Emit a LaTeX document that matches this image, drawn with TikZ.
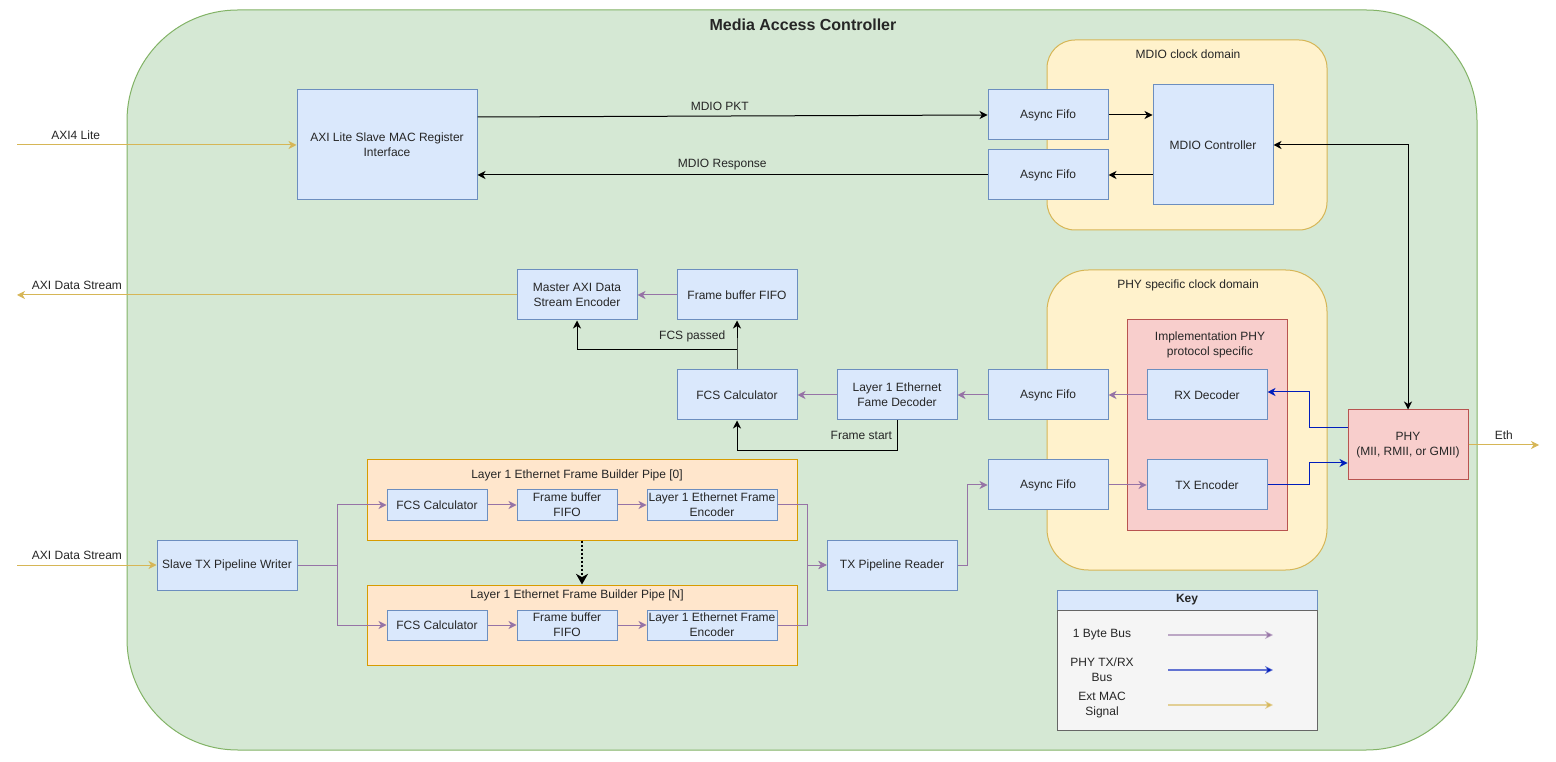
\documentclass[tikz,border=0pt]{standalone}
\usepackage{fontspec}
\setmainfont{Liberation Sans}
\usepackage{xcolor}
\usetikzlibrary{arrows.meta,positioning}

\definecolor{macfill}{HTML}{D5E8D4}
\definecolor{macline}{HTML}{82B366}
\definecolor{clkfill}{HTML}{FFF2CC}
\definecolor{clkline}{HTML}{D6B656}
\definecolor{blkfill}{HTML}{DAE8FC}
\definecolor{blkline}{HTML}{6C8EBF}
\definecolor{phyfill}{HTML}{F8CECC}
\definecolor{phyline}{HTML}{B85450}
\definecolor{pipefill}{HTML}{FFE6CC}
\definecolor{pipeline}{HTML}{D79B00}
\definecolor{keyfill}{HTML}{F5F5F5}
\definecolor{keyline}{HTML}{666666}
\definecolor{busline}{HTML}{9673A6}
\definecolor{phybusline}{HTML}{001DBC}
\definecolor{extline}{HTML}{D6B656}
\definecolor{txt}{HTML}{262626}

\newcommand{\px}{0.75pt}

\tikzset{
	every node/.style={text=txt, font=\fontsize{9pt}{11.25pt}\selectfont},
	title/.style={font=\bfseries\fontsize{12pt}{14pt}\selectfont},
	area/.style={line width=\px, inner sep=0pt},
	macarea/.style={area, draw=macline, fill=macfill, rounded corners=83pt},
	clkarea/.style={area, draw=clkline, fill=clkfill, minimum width=280*\px},
	phyarea/.style={area, draw=phyline, fill=phyfill},
	pipearea/.style={area, draw=pipeline, fill=pipefill, minimum width=430*\px, minimum height=80*\px},
	blk/.style={draw=blkline, fill=blkfill, line width=\px, align=center, inner sep=1pt, minimum width=120*\px, minimum height=50*\px},
	subblk/.style={blk, minimum width=100*\px, minimum height=30*\px},
	phyblk/.style={blk, draw=phyline, fill=phyfill, minimum height=70*\px},
	keyhead/.style={area, draw=blkline, fill=blkfill, minimum width=260*\px, minimum height=20*\px},
	keybody/.style={area, draw=keyline, fill=keyfill, minimum width=260*\px, minimum height=120*\px},
	wire/.style={line width=\px, ->},
	ctl/.style={wire, draw=black},
	bus/.style={wire, draw=busline},
	phybus/.style={wire, draw=phybusline},
	extsig/.style={wire, draw=extline},
	keywire/.style={line width=1.5pt, draw opacity=0.6},
	pipelink/.style={draw=black, line width=1.5pt, dash pattern=on 1.5pt off 1.5pt, -{Stealth[length=8pt,width=9pt,inset=2.5pt]}}
}

\begin{document}
\begin{tikzpicture}[x=\px, y=-\px, >={Stealth[length=6pt,width=6pt,inset=1.8pt]}]
	\useasboundingbox (0,0) rectangle (1556,762);

	\node[macarea, minimum width=1350*\px, minimum height=740*\px] (mac) at (802,380) {};
	\node[title] (mactitle) at (803,25) {Media Access Controller};

	\node[clkarea, minimum height=190*\px, rounded corners=21pt] (mdioclk) at (1187,135) {};
	\node (mdioclklbl) at (1188,54) {MDIO clock domain};
	\node[clkarea, minimum height=300*\px, rounded corners=31pt] (phyclk) at (1187,420) {};
	\node (phyclklbl) at (1188,285) {PHY specific clock domain};
	\node[phyarea, minimum width=160*\px, minimum height=210*\px] (impl) at (1207,425) {};
	\node[align=center] (impllbl) at (1210,345) {Implementation PHY\\protocol specific};

	\node[pipearea] (pipe0) at (582,500) {};
	\node (pipe0lbl) at (577,475) {Layer 1 Ethernet Frame Builder Pipe [0]};
	\node[pipearea] (pipeN) at (582,625) {};
	\node (pipeNlbl) at (577,595) {Layer 1 Ethernet Frame Builder Pipe [N]};

	\node[blk, minimum width=180*\px, minimum height=110*\px] (axilite) at (387,145) {AXI Lite Slave MAC Register\\Interface};
	\node[blk] (fifoa) at (1048,115) {Async Fifo};
	\node[blk] (fifob) at (1048,175) {Async Fifo};
	\node[blk, minimum height=120*\px] (mdioctl) at (1213,145) {MDIO Controller};

	\node[blk] (mstenc) at (577,295) {Master AXI Data\\Stream Encoder};
	\node[blk] (rxbuf) at (737,295) {Frame buffer FIFO};
	\node[blk] (rxfcs) at (737,395) {FCS Calculator};
	\node[blk] (l1dec) at (897,395) {Layer 1 Ethernet\\Fame Decoder};
	\node[blk] (fiforx) at (1048,395) {Async Fifo};
	\node[blk] (fifotx) at (1048,485) {Async Fifo};
	\node[blk] (rxdec) at (1207,395) {RX Decoder};
	\node[blk] (txenc) at (1207,485) {TX Encoder};
	\node[phyblk] (phy) at (1408,445) {PHY\\(MII, RMII, or GMII)};

	\node[blk, minimum width=140*\px] (txwr) at (227,565) {Slave TX Pipeline Writer};
	\node[blk, minimum width=130*\px] (txrd) at (892,565) {TX Pipeline Reader};
	\node[subblk] (fcs0) at (437,505) {FCS Calculator};
	\node[subblk] (buf0) at (567,505) {Frame buffer\\FIFO};
	\node[subblk, minimum width=130*\px] (enc0) at (712,505) {Layer 1 Ethernet Frame\\Encoder};
	\node[subblk] (fcsN) at (437,625) {FCS Calculator};
	\node[subblk] (bufN) at (567,625) {Frame buffer\\FIFO};
	\node[subblk, minimum width=130*\px] (encN) at (712,625) {Layer 1 Ethernet Frame\\Encoder};

	\node[keyhead] (keyhd) at (1187,600) {\textbf{Key}};
	\node[keybody] (keybd) at (1187,670) {};
	\node (k1) at (1102,635) {1 Byte Bus};
	\node[align=center] (k2) at (1102,670) {PHY TX/RX\\Bus};
	\node[align=center] (k3) at (1102,705) {Ext MAC\\Signal};

	\coordinate (axilin) at (17,145);
	\coordinate (axisout) at (17,295);
	\coordinate (axisin) at (17,565);
	\coordinate (ethout) at (1539,445);
	\coordinate (k1a) at (1168,635);
	\coordinate (k1b) at (1273,635);
	\coordinate (k2a) at (1168,670);
	\coordinate (k2b) at (1273,670);
	\coordinate (k3a) at (1168,705);
	\coordinate (k3b) at (1273,705);

	\draw[extsig] (axilin) -- (axilite.west) node[pos=0.21, above] {AXI4 Lite};
	\draw[ctl] ([yshift=21pt]axilite.east) -- (fifoa.west) node[pos=0.475, above] {MDIO PKT};
	\draw[ctl] (fifob.west) -- (fifob.west -| axilite.east) node[pos=0.52, above] {MDIO Response};
	\draw[ctl] (fifoa.east) -- (fifoa.east -| mdioctl.west);
	\draw[ctl] (mdioctl.west |- fifob.east) -- (fifob.east);
	\draw[ctl, <->] (mdioctl.east) -| (phy.north);

	\draw[bus] (rxdec.west) -- (fiforx.east);
	\draw[bus] (fifotx.east) -- (txenc.west);
	\draw[phybus] ([yshift=12.75pt]phy.west) -| ([xshift=31.5pt, yshift=2.25pt]rxdec.east) -- ([yshift=2.25pt]rxdec.east);
	\draw[phybus] (txenc.east) -- ++(42,0) |- ([yshift=-13.5pt]phy.west);
	\draw[extsig] (phy.east) -- (ethout) node[midway, above] {Eth};

	\draw[bus] (fiforx.west) -- (l1dec.east);
	\draw[bus] (l1dec.west) -- (rxfcs.east);
	\draw[bus] (rxbuf.west) -- (mstenc.east);
	\draw[extsig] (mstenc.west) -- (axisout) node[pos=0.88, above] {AXI Data Stream};
	\draw[ctl] (rxfcs.north) -- ++(0,-20) coordinate (fcsjn) -- (rxbuf.south);
	\draw[ctl] (fcsjn) -| (mstenc.south) node[pos=0.14, above=2pt] {FCS passed};
	\draw[ctl] (l1dec.south) -- ++(0,30) node[midway, left] {Frame start} -| (rxfcs.south);

	\draw[extsig] (axisin) -- (txwr.west) node[pos=0.43, above] {AXI Data Stream};
	\draw[bus] (txwr.east) -- ++(40,0) coordinate (wrjn) |- (fcs0.west);
	\draw[bus] (wrjn) |- (fcsN.west);
	\draw[bus] (fcs0) -- (buf0);
	\draw[bus] (buf0) -- (enc0);
	\draw[bus] (fcsN) -- (bufN);
	\draw[bus] (bufN) -- (encN);
	\draw[bus] (enc0.east) -- ++(30,0) |- (txrd.west);
	\draw[bus] (encN.east) -- ++(30,0) |- (txrd.west);
	\draw[bus] (txrd.east) -- ++(10,0) |- (fifotx.west);
	\draw[pipelink] (pipe0.south) -- (pipeN.north);

	\draw[bus, keywire] (k1a) -- (k1b);
	\draw[phybus, keywire] (k2a) -- (k2b);
	\draw[extsig, keywire] (k3a) -- (k3b);
\end{tikzpicture}
\end{document}
